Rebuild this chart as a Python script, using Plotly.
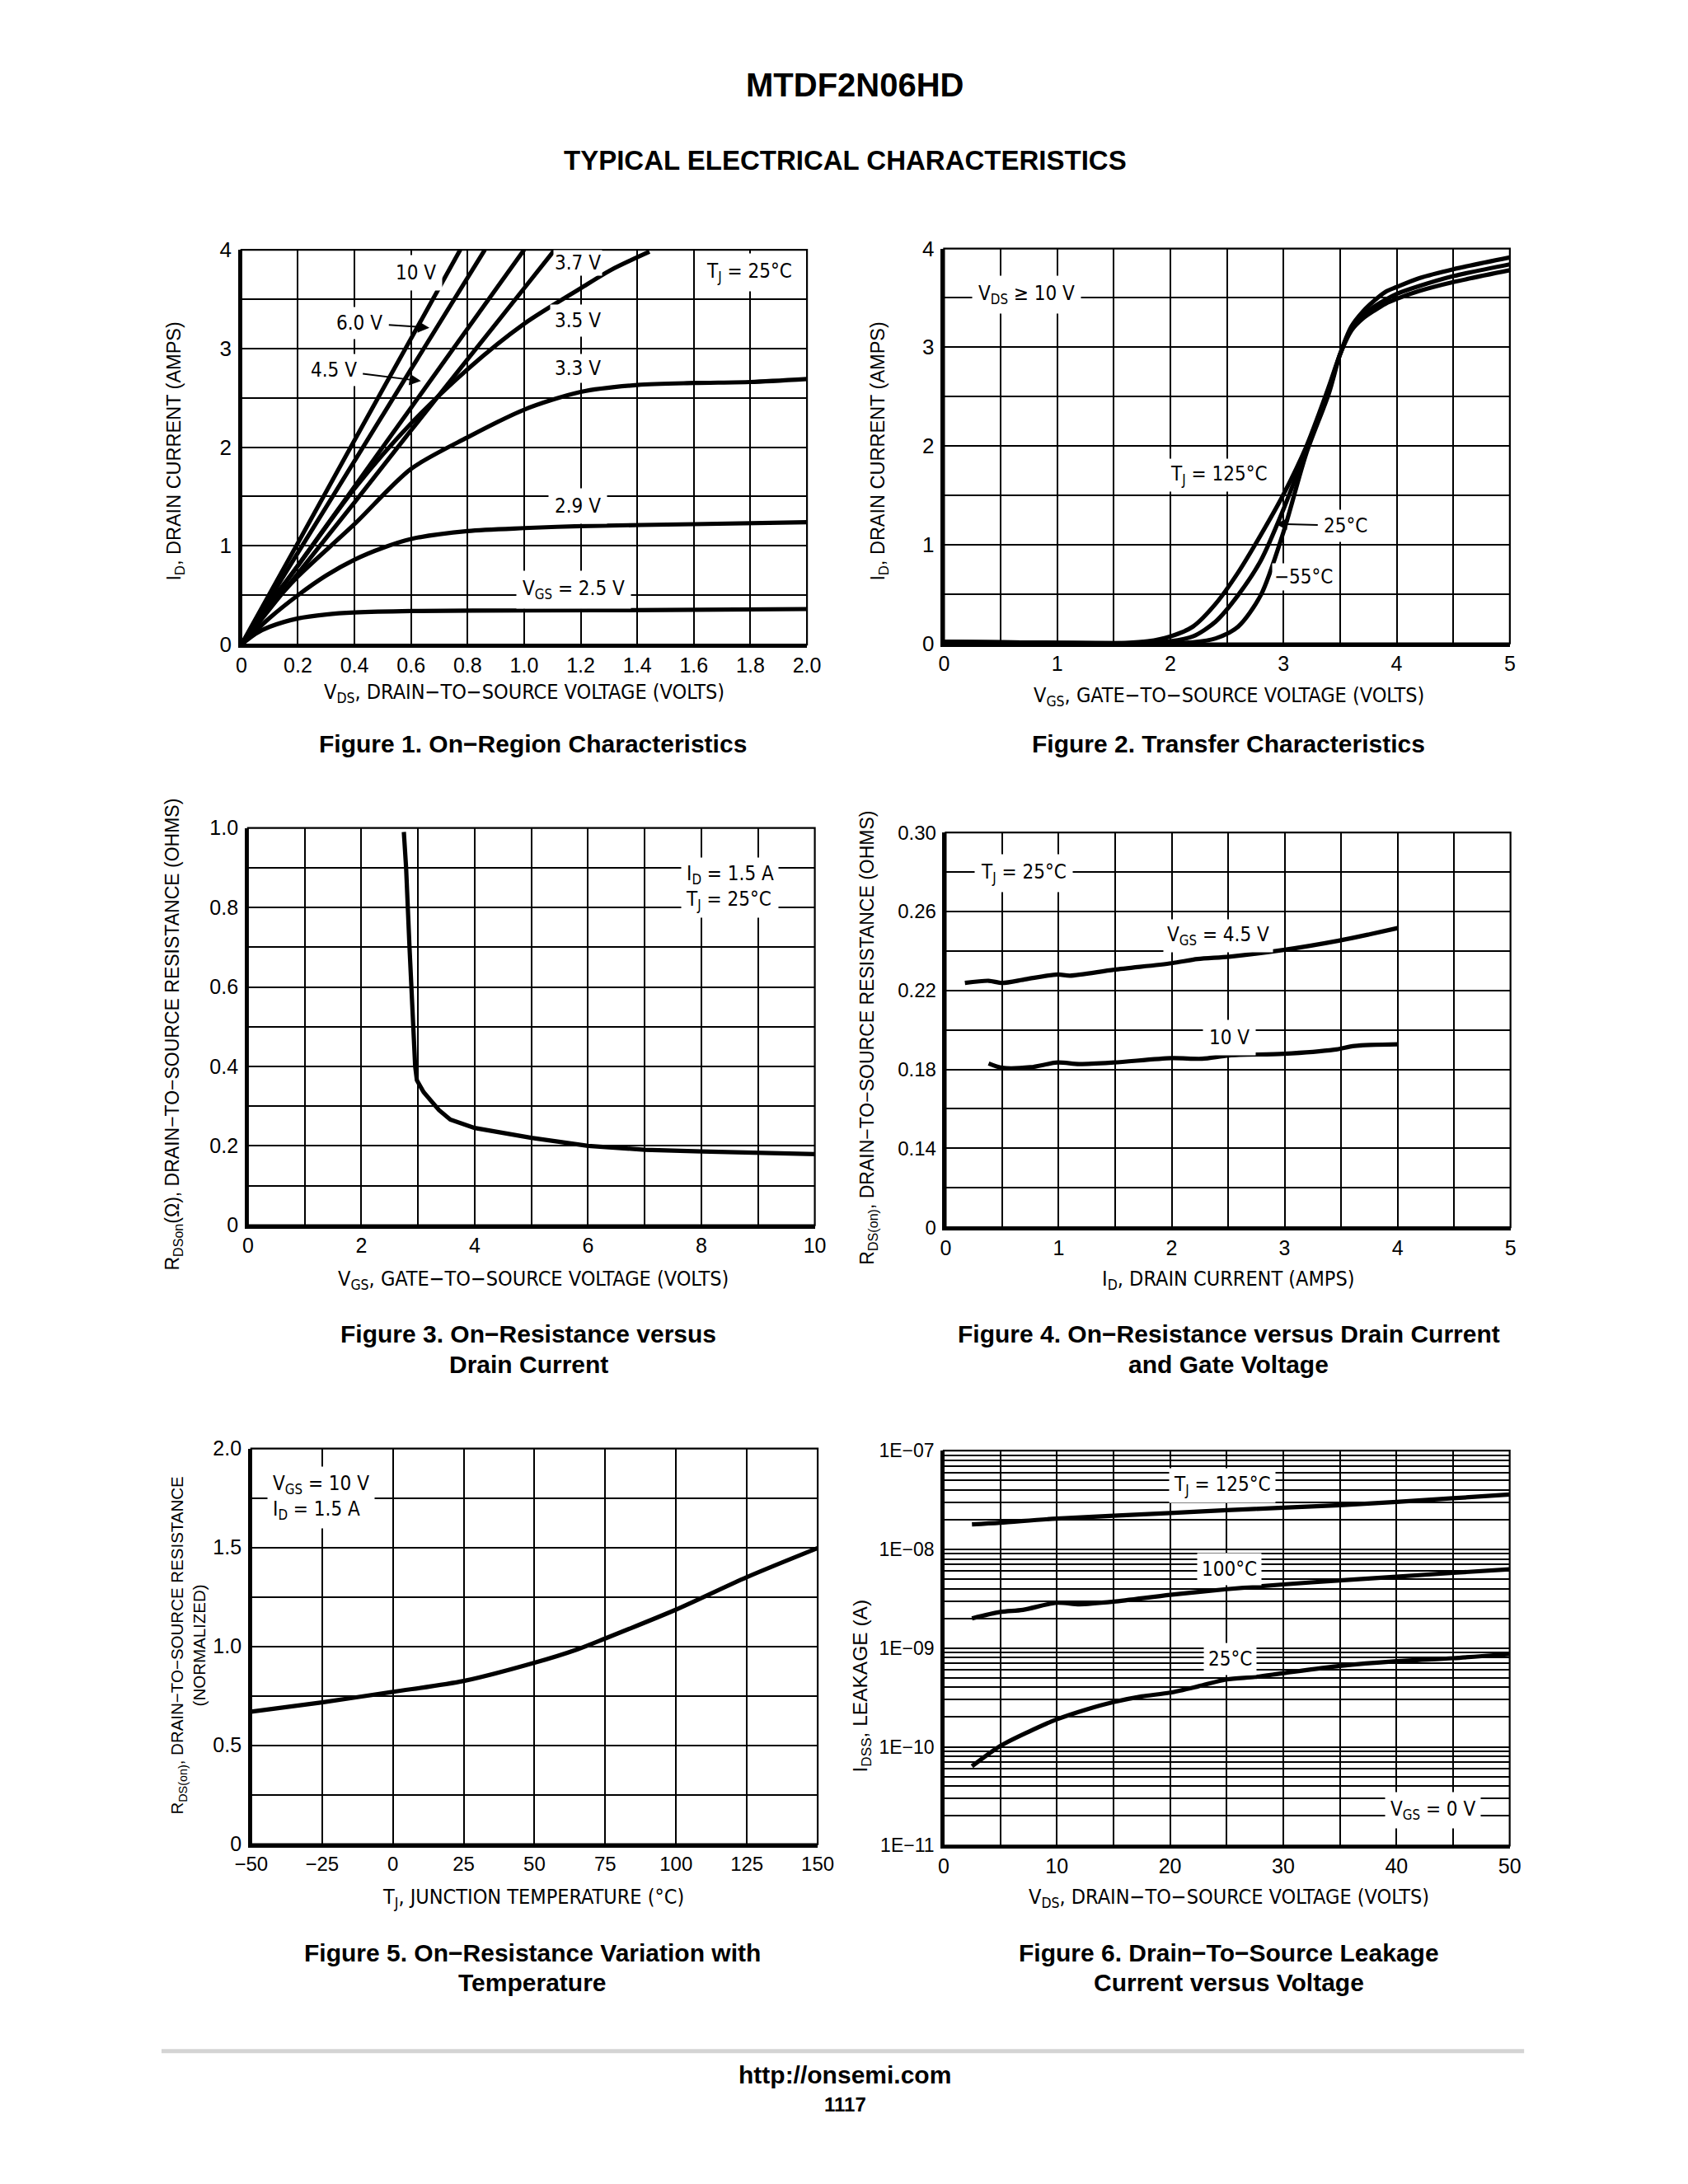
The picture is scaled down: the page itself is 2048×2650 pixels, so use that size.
import numpy as np
import plotly.graph_objects as go

W, H = 2048, 2650
NARROW = "Liberation Sans Narrow, Arial Narrow, DejaVu Sans Condensed, Liberation Sans, sans-serif"
REG = "Liberation Sans, Arial, Helvetica, sans-serif"

# ---------------- Figure 1: On-Region Characteristics ----------------
f1_vds_10v = [0, 0.2, 0.4, 0.6, 0.774]
f1_id_10v = [0, 1.03, 2.07, 3.10, 4.0]
f1_vds_6v = [0, 0.2, 0.4, 0.6, 0.861]
f1_id_6v = [0, 0.93, 1.86, 2.79, 4.0]
f1_vds_45v = [0, 0.2, 0.4, 0.6, 0.8, 1.0]
f1_id_45v = [0, 0.80, 1.60, 2.40, 3.20, 4.0]
f1_vds_37v = [0, 0.2, 0.4, 0.6, 0.8, 1.0, 1.108]
f1_id_37v = [0, 0.72, 1.44, 2.17, 2.89, 3.61, 4.0]
f1_vds_35v = [0, 0.1, 0.2, 0.4, 0.6, 0.8, 1.0, 1.2, 1.31, 1.443]
f1_id_35v = [0, 0.42, 0.80, 1.58, 2.24, 2.79, 3.25, 3.61, 3.80, 3.98]
f1_vds_33v = [0, 0.1, 0.2, 0.4, 0.6, 0.8, 1.0, 1.2, 1.4, 1.6, 1.8, 2.0]
f1_id_33v = [0, 0.37, 0.69, 1.22, 1.78, 2.10, 2.38, 2.56, 2.63, 2.65, 2.66, 2.69]
f1_vds_29v = [0, 0.1, 0.2, 0.3, 0.4, 0.5, 0.6, 0.8, 1.0, 1.2, 1.6, 2.0]
f1_id_29v = [0, 0.27, 0.50, 0.70, 0.86, 0.98, 1.07, 1.15, 1.18, 1.20, 1.22, 1.24]
f1_vds_25v = [0, 0.05, 0.1, 0.2, 0.3, 0.4, 0.6, 1.0, 1.5, 2.0]
f1_id_25v = [0, 0.11, 0.18, 0.265, 0.305, 0.325, 0.34, 0.345, 0.35, 0.36]
f1_xtickvals = [0, 0.2, 0.4, 0.6, 0.8, 1.0, 1.2, 1.4, 1.6, 1.8, 2.0]
f1_xticktext = ["0", "0.2", "0.4", "0.6", "0.8", "1.0", "1.2", "1.4", "1.6", "1.8", "2.0"]
f1_ytickvals = [0, 1, 2, 3, 4]
f1_yticktext = ["0", "1", "2", "3", "4"]

# ---------------- Figure 2: Transfer Characteristics ----------------
f2_vgs = [0, 1.0, 1.6, 1.8, 2.0, 2.2, 2.4, 2.6, 2.8, 3.0, 3.2, 3.4, 3.5, 3.6, 3.7, 3.8, 3.9, 4.0, 4.2, 4.5, 5.0]
f2_id_125c = [0.015, 0.005, 0.005, 0.02, 0.07, 0.17, 0.40, 0.72, 1.10, 1.51, 1.99, 2.60, 2.93, 3.17, 3.29, 3.37, 3.44, 3.49, 3.57, 3.66, 3.78]
f2_id_25c = [0.015, 0.005, 0.0, 0.005, 0.02, 0.07, 0.22, 0.49, 0.84, 1.36, 1.96, 2.57, 2.93, 3.19, 3.32, 3.41, 3.48, 3.54, 3.62, 3.72, 3.84]
f2_id_m55c = [0.015, 0.005, 0.0, 0.0, 0.0, 0.01, 0.05, 0.17, 0.49, 1.13, 1.92, 2.53, 2.93, 3.21, 3.36, 3.47, 3.56, 3.61, 3.70, 3.79, 3.91]
f2_xtickvals = [0, 1, 2, 3, 4, 5]
f2_xticktext = ["0", "1", "2", "3", "4", "5"]
f2_ytickvals = [0, 1, 2, 3, 4]
f2_yticktext = ["0", "1", "2", "3", "4"]

# ---------------- Figure 3: On-Resistance vs Gate Voltage ----------------
f3_vgs = [2.75, 2.79, 2.85, 2.91, 2.95, 2.98, 3.1, 3.37, 3.57, 4.0, 5.0, 6.0, 7.0, 8.0, 10.0]
f3_rds = [0.99, 0.90, 0.70, 0.50, 0.40, 0.365, 0.335, 0.29, 0.266, 0.245, 0.22, 0.20, 0.19, 0.186, 0.179]
f3_xtickvals = [0, 2, 4, 6, 8, 10]
f3_xticktext = ["0", "2", "4", "6", "8", "10"]
f3_ytickvals = [0, 0.2, 0.4, 0.6, 0.8, 1.0]
f3_yticktext = ["0", "0.2", "0.4", "0.6", "0.8", "1.0"]

# ---------------- Figure 4: On-Resistance vs Drain Current ----------------
f4_id_45v = [0.17, 0.38, 0.5, 0.71, 0.99, 1.1, 1.49, 2.0, 2.23, 2.51, 2.99, 3.48, 3.75, 4.0]
f4_rds_45v = [0.2238, 0.2249, 0.2238, 0.2257, 0.2281, 0.2275, 0.2305, 0.2338, 0.2359, 0.2371, 0.2405, 0.2452, 0.2484, 0.2516]
f4_id_10v = [0.38, 0.5, 0.75, 0.99, 1.18, 1.49, 2.0, 2.27, 2.51, 2.99, 3.44, 3.62, 4.0]
f4_rds_10v = [0.1830, 0.1808, 0.1811, 0.1835, 0.1827, 0.1835, 0.1857, 0.1854, 0.1871, 0.1879, 0.1900, 0.1919, 0.1927]
f4_xtickvals = [0, 1, 2, 3, 4, 5]
f4_xticktext = ["0", "1", "2", "3", "4", "5"]
f4_ytickvals = [0.10, 0.14, 0.18, 0.22, 0.26, 0.30]
f4_yticktext = ["0", "0.14", "0.18", "0.22", "0.26", "0.30"]

# ---------------- Figure 5: On-Resistance vs Temperature ----------------
f5_tj = [-50, -25, 0, 25, 50, 65, 75, 100, 125, 150]
f5_rds_norm = [0.67, 0.717, 0.77, 0.825, 0.917, 0.984, 1.04, 1.186, 1.35, 1.497]
f5_xtickvals = [-50, -25, 0, 25, 50, 75, 100, 125, 150]
f5_xticktext = ["\u221250", "\u221225", "0", "25", "50", "75", "100", "125", "150"]
f5_ytickvals = [0, 0.5, 1.0, 1.5, 2.0]
f5_yticktext = ["0", "0.5", "1.0", "1.5", "2.0"]

# ---------------- Figure 6: Drain-to-Source Leakage ----------------
f6_vds_125c = [2.5, 5, 10, 20, 25, 30, 35, 40, 45, 50]
f6_idss_125c = [1.79e-8, 1.86e-8, 2.05e-8, 2.33e-8, 2.49e-8, 2.64e-8, 2.80e-8, 3.02e-8, 3.29e-8, 3.59e-8]
f6_vds_100c = [2.5, 5, 7, 10, 12, 15, 20, 25, 30, 35, 40, 45, 50]
f6_idss_100c = [2.0e-9, 2.32e-9, 2.44e-9, 2.88e-9, 2.78e-9, 2.95e-9, 3.46e-9, 3.95e-9, 4.41e-9, 4.85e-9, 5.29e-9, 5.78e-9, 6.27e-9]
f6_vds_25c = [2.5, 5, 7.5, 10, 12.5, 15, 17.5, 20, 22.5, 25, 27.5, 30, 35, 40, 45, 50]
f6_idss_25c = [6.35e-11, 1.02e-10, 1.42e-10, 1.90e-10, 2.37e-10, 2.84e-10, 3.24e-10, 3.54e-10, 4.10e-10,
               4.82e-10, 5.10e-10, 5.57e-10, 6.59e-10, 7.36e-10, 7.90e-10, 8.70e-10]
f6_xtickvals = [0, 10, 20, 30, 40, 50]
f6_xticktext = ["0", "10", "20", "30", "40", "50"]
f6_ytickvals = [1e-11, 1e-10, 1e-9, 1e-8, 1e-7]
f6_yticktext = ["1E\u221211", "1E\u221210", "1E\u221209", "1E\u221208", "1E\u221207"]


# page-pixel placement helpers (reference pixel coords -> paper fraction)
def U(u):
    return 1.0188 * u - 18.19


def V(v):
    return 1.00735 * v - 12.38


def dx(a, b):
    return [U(a) / W, U(b) / W]


def dy(top, bottom):
    return [1 - V(bottom) / H, 1 - V(top) / H]


def px(x):
    return U(x) / W


def py(y):
    return 1 - V(y) / H


fig = go.Figure()
LW = 5.2


def add_line(x, y, n, shape="spline"):
    fig.add_trace(go.Scatter(
        x=x, y=y, mode="lines", xaxis="x" if n == 1 else f"x{n}", yaxis="y" if n == 1 else f"y{n}",
        line=dict(color="black", width=LW, shape=shape, smoothing=0.8),
        showlegend=False, hoverinfo="skip"))


for xs, ys in [(f1_vds_10v, f1_id_10v), (f1_vds_6v, f1_id_6v), (f1_vds_45v, f1_id_45v),
               (f1_vds_37v, f1_id_37v), (f1_vds_35v, f1_id_35v), (f1_vds_33v, f1_id_33v),
               (f1_vds_29v, f1_id_29v), (f1_vds_25v, f1_id_25v)]:
    add_line(xs, ys, 1)
for ys in [f2_id_125c, f2_id_25c, f2_id_m55c]:
    add_line(f2_vgs, ys, 2)
add_line(f3_vgs, f3_rds, 3, shape="linear")
add_line(f4_id_45v, f4_rds_45v, 4)
add_line(f4_id_10v, f4_rds_10v, 4)
add_line(f5_tj, f5_rds_norm, 5)
add_line(f6_vds_125c, f6_idss_125c, 6)
add_line(f6_vds_100c, f6_idss_100c, 6)
add_line(f6_vds_25c, f6_idss_25c, 6)


def axis(domain, anchor, rng, tv, tt, grid, typ="linear", is_x=True, fsize=24):
    return dict(
        domain=domain, anchor=anchor, range=rng, type=typ,
        tickmode="array", tickvals=tv, ticktext=tt,
        tickfont=dict(family=REG, size=fsize, color="black"),
        ticks="", ticklabelstandoff=0 if is_x else 3,
        showgrid=True, gridcolor="black", gridwidth=1.7,
        minor=dict(tickmode="array", tickvals=grid, showgrid=True, gridcolor="black", gridwidth=1.7, ticks=""),
        showline=True, linecolor="black", linewidth=3.5, mirror=False,
        zeroline=False, fixedrange=True,
    )


D = {
    1: (dx(291, 978), dy(301.5, 782.5)),
    2: (dx(1144.5, 1831.7), dy(300, 781)),
    3: (dx(299, 987.5), dy(1006, 1490)),
    4: (dx(1146.5, 1832.5), dy(1011.5, 1492.5)),
    5: (dx(303, 991), dy(1762, 2244)),
    6: (dx(1144, 1831.5), dy(1764.5, 2245.7)),
}

grid1x = list(np.round(np.arange(0, 2.01, 0.2), 3))
grid1y = list(np.arange(0, 4.01, 0.5))
grid2x = list(np.arange(0, 5.01, 0.5))
grid2y = list(np.arange(0, 4.01, 0.5))
grid3x = list(np.arange(0, 10.01, 1))
grid3y = list(np.round(np.arange(0, 1.01, 0.1), 3))
grid4x = list(np.arange(0, 5.01, 0.5))
grid4y = list(np.round(np.arange(0.10, 0.301, 0.02), 3))
grid5x = list(np.arange(-50, 151, 25))
grid5y = list(np.arange(0, 2.01, 0.25))
grid6x = list(np.arange(0, 51, 5))
grid6y = [k * 10.0 ** e for e in range(-11, -7) for k in range(1, 10)] + [1e-7]

layout_axes = {}
specs = [
    (1, [0, 2.0], f1_xtickvals, f1_xticktext, grid1x, [0, 4], f1_ytickvals, f1_yticktext, grid1y, "linear", 25, 26),
    (2, [0, 5], f2_xtickvals, f2_xticktext, grid2x, [0, 4], f2_ytickvals, f2_yticktext, grid2y, "linear", 25, 26),
    (3, [0, 10], f3_xtickvals, f3_xticktext, grid3x, [0, 1.0], f3_ytickvals, f3_yticktext, grid3y, "linear", 25, 25),
    (4, [0, 5], f4_xtickvals, f4_xticktext, grid4x, [0.10, 0.30], f4_ytickvals, f4_yticktext, grid4y, "linear", 25, 24),
    (5, [-50, 150], f5_xtickvals, f5_xticktext, grid5x, [0, 2.0], f5_ytickvals, f5_yticktext, grid5y, "linear", 24, 25),
    (6, [0, 50], f6_xtickvals, f6_xticktext, grid6x, [-11, -7], f6_ytickvals, f6_yticktext, grid6y, "log", 25, 23),
]
shapes = []
for n, xr, xtv, xtt, gx, yr, ytv, ytt, gy, ytype, xfs, yfs in specs:
    xd, yd = D[n]
    xn = "xaxis" if n == 1 else f"xaxis{n}"
    yn = "yaxis" if n == 1 else f"yaxis{n}"
    xa = "x" if n == 1 else f"x{n}"
    ya = "y" if n == 1 else f"y{n}"
    layout_axes[xn] = axis(xd, ya, xr, xtv, xtt, gx, "linear", True, xfs)
    layout_axes[yn] = axis(yd, xa, yr, ytv, ytt, gy, ytype, False, yfs)
    shapes.append(dict(type="rect", xref=f"{xa} domain", yref=f"{ya} domain", x0=0, x1=1, y0=0, y1=1,
                       line=dict(color="black", width=2.2), layer="above"))

# separator line near footer
shapes.append(dict(type="line", xref="paper", yref="paper", x0=px(194), x1=px(1849), y0=py(2496), y1=py(2496),
                   line=dict(color="#d4d4d4", width=5)))

ann = []
LBL = dict(family=NARROW, size=24, color="black")


def label(n, x, y, text, pad=7, align="center"):
    xa = "x" if n == 1 else f"x{n}"
    ya = "y" if n == 1 else f"y{n}"
    ann.append(dict(xref=xa, yref=ya, x=x, y=y, text=text, showarrow=False, font=LBL,
                    bgcolor="white", borderpad=pad, align=align, xanchor="center", yanchor="middle"))


def arrow_label(n, hx, hy, tx, ty, text):
    xa = "x" if n == 1 else f"x{n}"
    ya = "y" if n == 1 else f"y{n}"
    ann.append(dict(xref=xa, yref=ya, x=hx, y=hy, axref=xa, ayref=ya, ax=tx, ay=ty, text=text,
                    showarrow=True, arrowhead=2, arrowsize=1.4, arrowwidth=2, arrowcolor="black",
                    font=LBL, bgcolor="white", borderpad=5, standoff=0, startstandoff=2))


# Figure 1 labels
label(1, 0.616, 3.765, "10 V")
label(1, 1.19, 3.87, "3.7 V", pad=1)
label(1, 1.19, 3.28, "3.5 V", pad=5)
label(1, 1.19, 2.80, "3.3 V", pad=3)
label(1, 1.19, 1.405, "2.9 V")
label(1, 1.174, 0.556, "V<sub>GS</sub> = 2.5 V")
label(1, 1.797, 3.77, "T<sub>J</sub> = 25°C")
arrow_label(1, 0.665, 3.21, 0.418, 3.26, "6.0 V")
arrow_label(1, 0.635, 2.67, 0.326, 2.78, "4.5 V")

# Figure 2 labels
label(2, 0.73, 3.53, "V<sub>DS</sub> ≥ 10 V")
label(2, 2.43, 1.70, "T<sub>J</sub> = 125°C", pad=4)
label(2, 3.18, 0.67, "\u221255°C", pad=2)
arrow_label(2, 2.93, 1.21, 3.55, 1.19, "25°C")

# Figure 3 labels
label(3, 8.5, 0.85, "I<sub>D</sub> = 1.5 A<br>T<sub>J</sub> = 25°C", pad=5, align="left")

# Figure 4 labels
label(4, 0.69, 0.2794, "T<sub>J</sub> = 25°C")
label(4, 2.41, 0.2476, "V<sub>GS</sub> = 4.5 V", pad=4)
label(4, 2.51, 0.1960, "10 V")

# Figure 5 labels
label(5, -25.4, 1.754, "V<sub>GS</sub> = 10 V<br>I<sub>D</sub> = 1.5 A", pad=6, align="left")

# Figure 6 labels
label(6, 24.6, float(np.log10(4.47e-8)), "T<sub>J</sub> = 125°C", pad=5)
label(6, 25.2, float(np.log10(6.35e-9)), "100°C", pad=5)
label(6, 25.3, float(np.log10(7.8e-10)), "25°C", pad=5)
label(6, 43.2, float(np.log10(2.29e-11)), "V<sub>GS</sub> = 0 V", pad=6)


def ptext(x, y, text, font, angle=0, xanchor="center"):
    ann.append(dict(xref="paper", yref="paper", x=px(x), y=py(y), text=text, showarrow=False,
                    font=font, textangle=angle, xanchor=xanchor, yanchor="middle"))


def yt(size):
    return dict(family=REG, size=size, color="black")


XT = dict(family=NARROW, size=25, color="black")
CAP = dict(family=REG, size=30, color="black", weight="bold")

# axis titles
ptext(211, 547, "I<sub>D</sub>, DRAIN CURRENT (AMPS)", yt(23.5), -90)
ptext(635, 842, "V<sub>DS</sub>, DRAIN\u2212TO\u2212SOURCE VOLTAGE (VOLTS)", XT)
ptext(1066, 547, "I<sub>D</sub>, DRAIN CURRENT (AMPS)", yt(23.5), -90)
ptext(1490, 846, "V<sub>GS</sub>, GATE\u2212TO\u2212SOURCE VOLTAGE (VOLTS)", XT)
ptext(209, 1257, "R<sub>DSon</sub>(Ω), DRAIN\u2212TO\u2212SOURCE RESISTANCE (OHMS)", yt(23), -90)
ptext(646, 1557, "V<sub>GS</sub>, GATE\u2212TO\u2212SOURCE VOLTAGE (VOLTS)", XT)
ptext(1053, 1262, "R<sub>DS(on)</sub>, DRAIN\u2212TO\u2212SOURCE RESISTANCE (OHMS)", yt(23), -90)
ptext(1490, 1557, "I<sub>D</sub>, DRAIN CURRENT (AMPS)", XT)
ptext(226, 2002, "R<sub>DS(on)</sub>, DRAIN\u2212TO\u2212SOURCE RESISTANCE<br>(NORMALIZED)", yt(20.5), -90)
ptext(646, 2310, "T<sub>J</sub>, JUNCTION TEMPERATURE (°C)", XT)
ptext(1044, 2051, "I<sub>DSS</sub>, LEAKAGE (A)", yt(24.5), -90)
ptext(1490, 2310, "V<sub>DS</sub>, DRAIN\u2212TO\u2212SOURCE VOLTAGE (VOLTS)", XT)

# page title, captions, footer
ptext(1036, 101, "MTDF2N06HD", dict(family=REG, size=40, color="black", weight="bold"))
ptext(1024, 193, "TYPICAL ELECTRICAL CHARACTERISTICS", dict(family=REG, size=33, color="black", weight="bold"))
ptext(645, 903, "Figure 1. On\u2212Region Characteristics", CAP)
ptext(1490, 903, "Figure 2. Transfer Characteristics", CAP)
ptext(640, 1622, "Figure 3. On\u2212Resistance versus", CAP)
ptext(640, 1659, "Drain Current", CAP)
ptext(1490, 1622, "Figure 4. On\u2212Resistance versus Drain Current", CAP)
ptext(1490, 1659, "and Gate Voltage", CAP)
ptext(645, 2376, "Figure 5. On\u2212Resistance Variation with", CAP)
ptext(645, 2413, "Temperature", CAP)
ptext(1490, 2376, "Figure 6. Drain\u2212To\u2212Source Leakage", CAP)
ptext(1490, 2413, "Current versus Voltage", CAP)
ptext(1024, 2525, "http://onsemi.com", dict(family=REG, size=30, color="black", weight="bold"))
ptext(1024, 2561, "1117", dict(family=REG, size=24, color="black", weight="bold"))

fig.update_layout(
    width=W, height=H, margin=dict(l=0, r=0, t=0, b=0, pad=0),
    paper_bgcolor="white", plot_bgcolor="white",
    showlegend=False, annotations=ann, shapes=shapes, **layout_axes,
)

fig.write_html("out.html", config={"displayModeBar": False},
               post_script="document.body.style.margin='0';document.body.style.overflow='hidden';")
